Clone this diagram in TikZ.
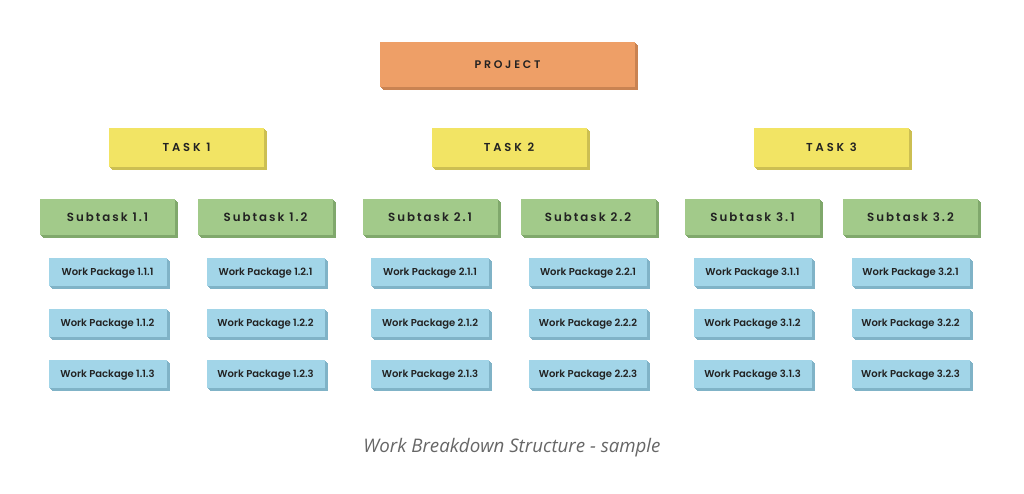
\documentclass[tikz,border=0pt]{standalone}
\usepackage{fontspec}
\setmainfont{Open Sans}
\newfontfamily\capsfont[LetterSpace=25,BoldFont={Poppins SemiBold}]{Poppins}
\newfontfamily\subfont[LetterSpace=17,BoldFont={Poppins SemiBold}]{Poppins}
\newfontfamily\wpfont[BoldFont={Poppins SemiBold}]{Poppins}
\usetikzlibrary{shadows}

\definecolor{projface}{HTML}{EE9F67}
\definecolor{projside}{HTML}{C98352}
\definecolor{taskface}{HTML}{F2E464}
\definecolor{taskside}{HTML}{CCBF52}
\definecolor{subface}{HTML}{A2CA8A}
\definecolor{subside}{HTML}{80A86C}
\definecolor{wpface}{HTML}{A2D5E8}
\definecolor{wpside}{HTML}{80B3C7}
\definecolor{labeltext}{HTML}{222222}
\definecolor{captext}{HTML}{666666}

\tikzset{
  block/.style 2 args={fill=#1, text=labeltext, inner sep=0pt, text depth=0pt,
    copy shadow={fill=#2, draw=none, shadow xshift=3pt, shadow yshift=-3pt},
    copy shadow={fill=#2, draw=none, shadow xshift=2pt, shadow yshift=-2pt},
    copy shadow={fill=#2, draw=none, shadow xshift=1pt, shadow yshift=-1pt}},
  proj/.style={block={projface}{projside}, minimum width=255pt, minimum height=45pt,
    font=\capsfont\bfseries\fontsize{11}{13}\selectfont},
  task/.style={block={taskface}{taskside}, minimum width=155pt, minimum height=39pt,
    font=\capsfont\bfseries\fontsize{11.5}{13}\selectfont},
  sub/.style={block={subface}{subside}, minimum width=135pt, minimum height=36pt,
    font=\subfont\bfseries\fontsize{11.8}{13}\selectfont},
  wp/.style={block={wpface}{wpside}, minimum width=118pt, minimum height=28pt,
    font=\wpfont\bfseries\fontsize{10}{12}\selectfont}
}

\begin{document}
\begin{tikzpicture}[x=1pt,y=-1pt]
\useasboundingbox (0,0) rectangle (1024,493);

\node[proj] (p) at (507.5,64.5) {PROJECT};

\foreach \t in {1,2,3} {
  \pgfmathsetmacro{\tx}{186.5+322.5*(\t-1)}
  \node[task] (t\t) at (\tx,147.5) {TASK \t};
  \foreach \s/\dx in {1/-79,2/79} {
    \pgfmathsetmacro{\sx}{\tx+\dx}
    \node[sub] (s\t\s) at (\sx,217) {Subtask \t.\s};
    \foreach \w/\wy in {1/272,2/323,3/374}
      \node[wp] (w\t\s\w) at (\sx,\wy) {Work Package \t.\s.\w};
  }
}

\node[font=\itshape\fontsize{18.7}{22}\selectfont, text=captext] (cap) at (512,448)
  {Work Breakdown Structure - sample};
\end{tikzpicture}
\end{document}
